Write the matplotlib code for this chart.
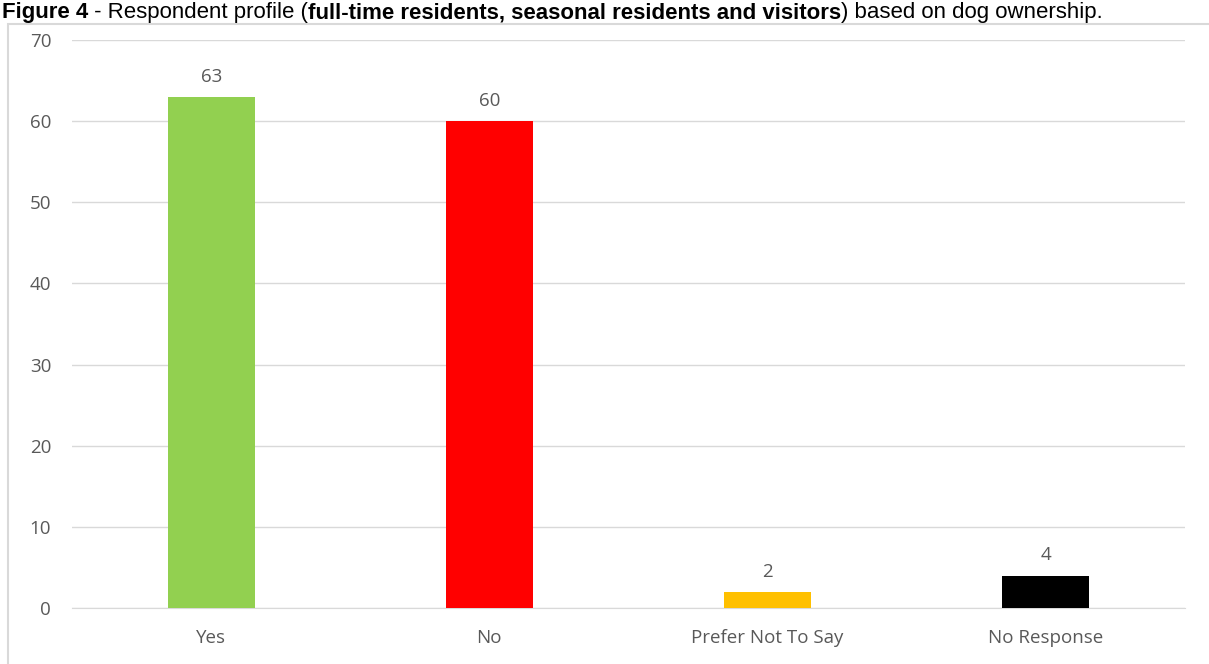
import matplotlib.pyplot as plt
from matplotlib.patches import Rectangle

categories = ['Yes', 'No', 'Prefer Not To Say', 'No Response']
counts = [63, 60, 2, 4]
colors = ['#92d050', '#ff0000', '#ffc000', '#000000']

plt.rcParams['font.family'] = ['Open Sans', 'DejaVu Sans']

fig = plt.figure(figsize=(12.09, 6.64), dpi=100)
ax = fig.add_axes([72 / 1209, 1 - 608 / 664, 1113 / 1209, 568 / 664])

x = range(len(categories))
bars = ax.bar(x, counts, width=0.313, color=colors, zorder=3)
for b, v in zip(bars, counts):
    ax.annotate(str(v), (b.get_x() + b.get_width() / 2, v), xytext=(0, 8),
                textcoords='offset points', ha='center', va='bottom',
                fontsize=13.5, color='#595959')

ax.set_xlim(-0.5, 3.5)
ax.set_ylim(0, 70)
ax.set_yticks(range(0, 71, 10))
ax.set_xticks(list(x))
ax.set_xticklabels(categories)
ax.tick_params(axis='both', length=0, labelsize=13.5, labelcolor='#595959')
ax.tick_params(axis='x', pad=15)
ax.tick_params(axis='y', pad=15)
ax.grid(axis='y', color='#d9d9d9', linewidth=1, zorder=0)
for s in ['top', 'right', 'left']:
    ax.spines[s].set_visible(False)
ax.spines['bottom'].set_color('#d9d9d9')

# chart frame
fig.patches.append(Rectangle((8 / 1209, -0.01), 1.1, 1 - 24 / 664 + 0.01,
                             transform=fig.transFigure, fill=False,
                             edgecolor='#d9d9d9', linewidth=1.5))

# caption above the frame
base_y = 1 - 18 / 664
cap = dict(fontsize=16, family='Liberation Sans', va='baseline')
t1 = fig.text(2 / 1209, base_y, 'Figure 4', fontweight='bold', **cap)
t2 = fig.text(0, 0, ' - Respondent profile (', **cap)
t3 = fig.text(0, 0, 'full-time residents, seasonal residents and visitors',
              fontweight='bold', **cap)
t4 = fig.text(0, 0, ') based on dog ownership.', **cap)

# chain the caption pieces one after another
fig.canvas.draw()
r = fig.canvas.get_renderer()
prev = t1
for t in (t2, t3, t4):
    bb = prev.get_window_extent(r)
    t.set_position((bb.x1 / fig.bbox.width, base_y))
    prev = t

fig.savefig('out.png', dpi=100)
